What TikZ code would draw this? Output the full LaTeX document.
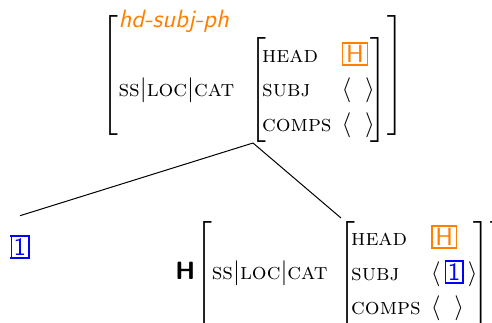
\documentclass[tikz,border=0pt]{standalone}
\usepackage{xcolor}
\usetikzlibrary{positioning}

\definecolor{tagorange}{rgb}{1,0.5,0}
\setlength{\fboxsep}{0.6pt}
\setlength{\fboxrule}{0.7pt}
\newcommand{\feat}[1]{\mbox{\fontsize{9.3}{11}\selectfont\scshape #1}}
\newcommand{\tagH}{\fcolorbox{tagorange}{white}{\kern0.5pt\textcolor{tagorange}{\sffamily H}\kern0.5pt}}
\newcommand{\tagone}{\fcolorbox{blue}{white}{\textcolor{blue}{\sffamily 1}}}
\newcommand{\emptylist}{\langle\;\;\rangle}
\renewcommand{\arraystretch}{1.15}

\tikzset{branch/.style={draw, thin}, avmnode/.style={inner xsep=3pt, inner ysep=1pt}}

\begin{document}
\begin{tikzpicture}[x=0.4pt,y=-0.4pt]
\useasboundingbox (0,0) rectangle (492,322);
\clip (0,0) rectangle (492,322);

% mother: head-subject phrase (outer bracket sized by a strut)
\node[avmnode, inner ysep=0.8pt, anchor=south] (mother) at (253,143) {$\left[\rule[-23.5pt]{0pt}{28.5pt}\smash{\raisebox{1.1pt}{$\begin{array}{@{}l@{}}
  \mbox{\color{tagorange}\sffamily\itshape hd-subj-ph}\\
  \feat{ss}|\feat{loc}|\feat{cat}\;\,\left[\!\begin{array}{@{}l@{\hspace{4pt}}l@{}}
    \feat{head} & \tagH\\
    \feat{subj} & \emptylist\\
    \feat{comps} & \emptylist
  \end{array}\!\right]
\end{array}$}}\right]$};

% daughters
\node (subj) at (20,247) {\tagone};
\node[avmnode, anchor=north] (head) at (341,218) {$\mbox{\sffamily\bfseries H}\!\left[\begin{array}{@{}l@{}}
  \feat{ss}|\feat{loc}|\feat{cat}\;\left[\!\begin{array}{@{}l@{\hspace{4pt}}l@{}}
    \feat{head} & \tagH\\
    \feat{subj} & \langle\,\tagone\,\rangle\\
    \feat{comps} & \emptylist
  \end{array}\!\right]
\end{array}\right]$};

\draw[branch] (mother.south) -- ([yshift=4.3pt]subj.north);
\draw[branch] (mother.south) -- (head.north);
\end{tikzpicture}
\end{document}
